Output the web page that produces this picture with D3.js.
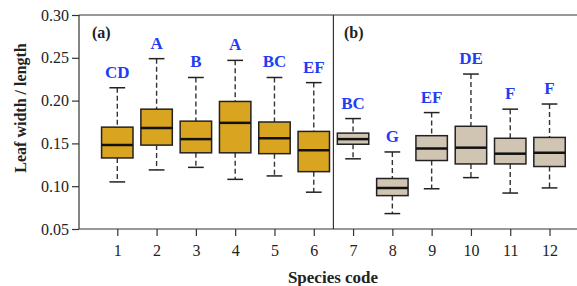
<!DOCTYPE html>
<html lang="en">
<head>
	<meta charset="UTF-8">
	<title>Leaf width / length boxplots</title>
	<script src="https://d3js.org/d3.v7.min.js"></script>
	<style>
		body { margin: 0; background: #ffffff; }
		text { font-family: "Liberation Serif", "Times New Roman", serif; }
		.tick text { font-size: 16px; fill: #222; }
		.axis path, .axis line { stroke: #333; stroke-width: 1.2; }
		.title { font-size: 16px; font-weight: bold; fill: #222; }
		.letter { font-size: 17px; font-weight: bold; fill: #1f3df5; }
	</style>
</head>
<body>
<script type="text/javascript">
	// species codes and the five box stats
	var species = [1, 2, 3, 4, 5, 6, 7, 8, 9, 10, 11, 12];
	var whiskLow  = [0.105, 0.119, 0.122, 0.108, 0.112, 0.093, 0.132, 0.068, 0.097, 0.110, 0.092, 0.098];
	var q1        = [0.133, 0.148, 0.139, 0.139, 0.138, 0.117, 0.149, 0.089, 0.130, 0.126, 0.126, 0.123];
	var medians   = [0.148, 0.168, 0.155, 0.174, 0.156, 0.142, 0.155, 0.098, 0.144, 0.145, 0.138, 0.139];
	var q3        = [0.169, 0.190, 0.176, 0.199, 0.175, 0.164, 0.162, 0.109, 0.159, 0.170, 0.156, 0.157];
	var whiskHigh = [0.215, 0.249, 0.227, 0.247, 0.227, 0.221, 0.179, 0.140, 0.186, 0.231, 0.190, 0.196];
	var letters   = ['CD', 'A', 'B', 'A', 'BC', 'EF', 'BC', 'G', 'EF', 'DE', 'F', 'F'];
	var yTicks = [0.05, 0.10, 0.15, 0.20, 0.25, 0.30];

	var W = 577, H = 286;
	var plotL = 79, plotR = 579, plotT = 15, plotB = 229;

	var svg = d3.select('body').append('svg')
		.attr('width', W)
		.attr('height', H);

	var x = d3.scaleLinear().domain([0, 12.75]).range([78, 579]);
	var y = d3.scaleLinear().domain([0.05, 0.30]).range([plotB, plotT]);
	var step = x(1) - x(0);
	var boxW = step * 0.8;

	// axes
	svg.append('g')
		.attr('class', 'axis')
		.attr('transform', 'translate(' + plotL + ',0)')
		.call(d3.axisLeft(y).tickValues(yTicks).tickFormat(d3.format('.2f')).tickSize(7).tickPadding(3));

	svg.append('g')
		.attr('class', 'axis')
		.attr('transform', 'translate(0,' + plotB + ')')
		.call(d3.axisBottom(x).tickValues(species).tickFormat(d3.format('d')).tickSize(7).tickPadding(9));

	svg.selectAll('.axis .domain').remove();

	// frame: left, bottom, top, and divider between the panels
	var frame = svg.append('g').attr('stroke', '#333').attr('stroke-width', 1.2);
	frame.append('line').attr('x1', plotL).attr('x2', plotL).attr('y1', plotT).attr('y2', plotB);
	frame.append('line').attr('x1', plotL).attr('x2', plotR).attr('y1', plotB).attr('y2', plotB);
	frame.append('line').attr('x1', plotL).attr('x2', plotR).attr('y1', plotT).attr('y2', plotT);
	frame.append('line').attr('x1', x(6.5)).attr('x2', x(6.5)).attr('y1', plotT).attr('y2', plotB);

	// boxes
	var g = svg.selectAll('.box')
		.data(species)
		.enter().append('g')
		.attr('class', 'box');

	g.append('line')
		.attr('x1', function (d) { return x(d); })
		.attr('x2', function (d) { return x(d); })
		.attr('y1', function (d, i) { return y(whiskHigh[i]); })
		.attr('y2', function (d, i) { return y(q3[i]); })
		.attr('stroke', '#333').attr('stroke-width', 1.4).attr('stroke-dasharray', '5,3');
	g.append('line')
		.attr('x1', function (d) { return x(d); })
		.attr('x2', function (d) { return x(d); })
		.attr('y1', function (d, i) { return y(q1[i]); })
		.attr('y2', function (d, i) { return y(whiskLow[i]); })
		.attr('stroke', '#333').attr('stroke-width', 1.4).attr('stroke-dasharray', '5,3');

	g.append('line')
		.attr('x1', function (d) { return x(d) - boxW / 4; })
		.attr('x2', function (d) { return x(d) + boxW / 4; })
		.attr('y1', function (d, i) { return y(whiskHigh[i]); })
		.attr('y2', function (d, i) { return y(whiskHigh[i]); })
		.attr('stroke', '#222').attr('stroke-width', 1.5);
	g.append('line')
		.attr('x1', function (d) { return x(d) - boxW / 4; })
		.attr('x2', function (d) { return x(d) + boxW / 4; })
		.attr('y1', function (d, i) { return y(whiskLow[i]); })
		.attr('y2', function (d, i) { return y(whiskLow[i]); })
		.attr('stroke', '#222').attr('stroke-width', 1.5);

	g.append('rect')
		.attr('x', function (d) { return x(d) - boxW / 2; })
		.attr('y', function (d, i) { return y(q3[i]); })
		.attr('width', boxW)
		.attr('height', function (d, i) { return y(q1[i]) - y(q3[i]); })
		.attr('fill', function (d) { return d <= 6 ? '#d9a521' : '#d0c5b3'; })
		.attr('stroke', '#222').attr('stroke-width', 1.5);

	g.append('line')
		.attr('x1', function (d) { return x(d) - boxW / 2; })
		.attr('x2', function (d) { return x(d) + boxW / 2; })
		.attr('y1', function (d, i) { return y(medians[i]); })
		.attr('y2', function (d, i) { return y(medians[i]); })
		.attr('stroke', '#111').attr('stroke-width', 2.5);

	g.append('text')
		.attr('class', 'letter')
		.attr('text-anchor', 'middle')
		.attr('x', function (d) { return x(d); })
		.attr('y', function (d, i) { return y(whiskHigh[i]) - 10; })
		.text(function (d, i) { return letters[i]; });

	// panel labels
	svg.append('text').attr('class', 'title').attr('x', 92).attr('y', 38).text('(a)');
	svg.append('text').attr('class', 'title').attr('x', 344).attr('y', 38).text('(b)');

	// axis titles
	svg.append('text')
		.attr('class', 'title')
		.attr('text-anchor', 'middle')
		.attr('transform', 'translate(26,108) rotate(-90)')
		.text('Leaf width / length');
	svg.append('text')
		.attr('class', 'title')
		.attr('text-anchor', 'middle')
		.style('font-size', '17px')
		.attr('x', 333)
		.attr('y', 283)
		.text('Species code');
</script>
</body>
</html>
